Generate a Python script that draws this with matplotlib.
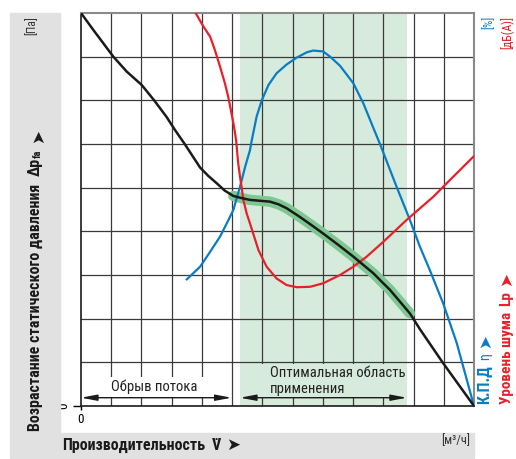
import matplotlib
matplotlib.use("Agg")
import matplotlib.pyplot as plt
from matplotlib.patches import Rectangle
import numpy as np

# values read in grid cells (13 columns x 9 rows, no scale printed)
press_x = [0, 0.41, 1.07, 1.51, 2.01, 2.42, 2.83, 3.11, 3.44, 3.94, 4.21, 4.49,
           4.76, 5.04, 5.32, 5.59, 5.92, 6.25, 6.53, 6.80, 7.02, 7.24, 7.63,
           8.01, 8.51, 9.01, 9.34, 9.67, 10.0, 10.22, 10.55, 10.88, 11.21, 11.97, 13]
press_y = [9, 8.61, 8.0, 7.66, 7.35, 7.0, 6.62, 6.32, 5.99, 5.46, 5.27, 5.10,
           4.93, 4.81, 4.76, 4.72, 4.70, 4.68, 4.62, 4.53, 4.43, 4.33, 4.14,
           3.95, 3.69, 3.42, 3.23, 3.04, 2.81, 2.66, 2.39, 2.12, 1.76, 0.99, 0]

noise_x = [3.80, 4.05, 4.27, 4.43, 4.60, 4.76, 4.87, 4.98, 5.06, 5.13, 5.20,
           5.26, 5.32, 5.37, 5.48, 5.59, 5.87, 6.14, 6.47, 6.80, 7.14, 7.58,
           8.01, 8.57, 9.01, 9.45, 10.0, 10.77, 11.65, 12.21, 12.98]
noise_y = [8.99, 8.69, 8.46, 8.15, 7.77, 7.39, 7.08, 6.70, 6.40, 6.09, 5.56,
           5.25, 4.98, 4.72, 4.41, 4.18, 3.57, 3.19, 2.92, 2.77, 2.72, 2.73,
           2.81, 3.0, 3.19, 3.42, 3.76, 4.26, 4.79, 5.18, 5.71]

eff_x = [3.50, 3.94, 4.27, 4.60, 4.82, 5.04, 5.15, 5.26, 5.43, 5.59, 5.65,
         5.81, 5.98, 6.20, 6.47, 6.80, 7.14, 7.47, 7.68, 8.01, 8.24, 8.57,
         9.01, 9.34, 9.67, 9.89, 10.44, 10.88, 11.21, 11.54, 11.98, 12.43, 13]
eff_y = [2.90, 3.19, 3.53, 3.88, 4.18, 4.49, 4.76, 5.02, 5.48, 5.86, 6.09,
         6.63, 7.0, 7.35, 7.62, 7.82, 7.98, 8.10, 8.14, 8.12, 8.0, 7.79,
         7.39, 6.93, 6.37, 6.0, 5.02, 4.26, 3.65, 3.11, 2.35, 1.44, 0]

stall_range = (0, 4.98)
optimal_range = (5.26, 10.78)
band_range = (5.0, 10.9)

FONT = ["Roboto Condensed", "DejaVu Sans"]
RED = "#e8202a"
BLUE = "#0a7cc4"
GRID = "#3a3a3a"
INK = "#1a1a1a"

fig = plt.figure(figsize=(5.16, 4.59), dpi=100)
W, H = 516, 459
ax = fig.add_axes([81 / W, 1 - 406 / H, (474 - 81) / W, (406 - 13) / H])
ax.set_xlim(0, 13)
ax.set_ylim(0, 9)

# grey L-shaped frame
fig.patches.append(Rectangle((10 / W, 1 - 433 / H), 50 / W, (433 - 13) / H,
                             transform=fig.transFigure, color="#e1e1e1", zorder=0))
fig.patches.append(Rectangle((10 / W, 1 - 458 / H), 464 / W, 25 / H,
                             transform=fig.transFigure, color="#e1e1e1", zorder=0))

ax.axvspan(*optimal_range, color="#d7ebdc", zorder=0, lw=0)

ax.set_xticks([0])
ax.set_yticks([0])
ax.set_xticks(np.arange(1, 13), minor=True)
ax.set_yticks(np.arange(1, 9), minor=True)
ax.grid(which="minor", color=GRID, lw=0.9, zorder=1)
ax.tick_params(which="minor", length=0)
ax.tick_params(axis="y", length=6, width=1, pad=1.5, labelsize=9.5, labelrotation=90)
ax.tick_params(axis="x", length=3, width=1, pad=2, labelsize=9.5)
for lab in ax.get_xticklabels() + ax.get_yticklabels():
    lab.set_family(FONT)
for lab in ax.get_yticklabels():
    lab.set_va("center")
ax.set_axisbelow(True)

for side in ["top", "right"]:
    ax.spines[side].set_color("#8a8a8a")
    ax.spines[side].set_linewidth(1.5)
for side in ["left", "bottom"]:
    ax.spines[side].set_color(INK)
    ax.spines[side].set_linewidth(1.2)

# patches hiding the grid behind the two notes
ax.add_patch(Rectangle((0.05, 0.21), 4.88, 0.46, color="white", lw=0, zorder=1.5))
ax.add_patch(Rectangle((optimal_range[0], 0.21), optimal_range[1] - optimal_range[0],
                       0.76, color="#d7ebdc", lw=0, zorder=1.5))

# curves
px = np.array(press_x)
py = np.array(press_y)
sel = (px >= band_range[0]) & (px <= band_range[1])
ax.plot(px[sel], py[sel], color="#7fc791", lw=7.5, solid_capstyle="round",
        solid_joinstyle="round", zorder=2)
ax.plot(eff_x, eff_y, color=BLUE, lw=1.6, zorder=3, solid_joinstyle="round")
ax.plot(noise_x, noise_y, color=RED, lw=1.6, zorder=3, solid_joinstyle="round")
ax.plot(px, py, color=INK, lw=1.8, zorder=4, solid_joinstyle="round")

arrow_kw = dict(arrowstyle="<|-|>,head_length=0.95,head_width=0.18",
                color=INK, lw=1, mutation_scale=10, shrinkA=0, shrinkB=0)
ax.annotate("", xy=(stall_range[1], 0.19), xytext=(stall_range[0], 0.19),
            arrowprops=arrow_kw, zorder=5)
ax.annotate("", xy=(optimal_range[1], 0.19), xytext=(optimal_range[0], 0.19),
            arrowprops=arrow_kw, zorder=5)

ax.text(2.41, 0.44, "Обрыв потока", ha="center", va="center", fontsize=10.5,
        family=FONT, color="#222222", zorder=5)
ax.text(6.25, 0.58, "Оптимальная область\nприменения", ha="left", va="center",
        fontsize=10.5, family=FONT, color="#222222", linespacing=1.2, zorder=5)

# axis labels, built piece by piece
fig.canvas.draw()
renderer = fig.canvas.get_renderer()


def put(x, y, s, **kw):
    return fig.text(x / W, y / H, s, **kw)


def after(prev, s, gap, vertical, shift=0, **kw):
    bb = prev.get_window_extent(renderer)
    if vertical:
        t = put((bb.x0 + bb.x1) / 2 + shift, bb.y1 + gap, s, rotation=90,
                ha="center", va="bottom", **kw)
    else:
        t = put(bb.x1 + gap, (bb.y0 + bb.y1) / 2 + shift, s, ha="left",
                va="center", **kw)
    fig.canvas.draw()
    return t


bold = dict(family=FONT, weight="bold", fontsize=11.5, color=INK)
arrow_font = dict(family=["DejaVu Sans"], fontsize=12)

t = put(35, H - 431, "Возрастание статического давления", rotation=90,
        ha="center", va="bottom", **bold)
fig.canvas.draw()
t = after(t, "Δp", 8, True, **bold)
t2 = after(t, "fa", 0, True, shift=3, family=FONT, weight="bold", fontsize=7.5,
           color=INK)
after(t2, "➤", 6, True, color=INK, **arrow_font)
put(32, H - 16, "[Па]", rotation=90, ha="center", va="top", family=FONT,
    fontsize=8.5, color="#333333")

t = put(62, H - 445, "Производительность", ha="left", va="center", **bold)
fig.canvas.draw()
t = after(t, "V̇", 7, False, **bold)
after(t, "➤", 5, False, color=INK, **arrow_font)
put(470, H - 441, "[м³/ч]", ha="right", va="center", family=FONT, fontsize=9,
    color="#333333")

t = put(485, H - 404, "К.П.Д", rotation=90, ha="center", va="bottom",
        family=FONT, weight="bold", fontsize=11.5, color=BLUE)
fig.canvas.draw()
t = after(t, "η", 5, True, family=FONT, fontsize=10, color=BLUE)
after(t, "➤", 5, True, color=BLUE, **arrow_font)
put(489, H - 16, "[%]", rotation=90, ha="center", va="top", family=FONT,
    fontsize=8.5, color=BLUE)

t = put(506.5, H - 404, "Уровень шума", rotation=90, ha="center", va="bottom",
        family=FONT, weight="bold", fontsize=11, color=RED)
fig.canvas.draw()
t = after(t, "Lp", 6, True, family=FONT, weight="bold", fontsize=11, color=RED)
after(t, "➤", 5, True, color=RED, **arrow_font)
put(507, H - 16, "[дБ(A)]", rotation=90, ha="center", va="top", family=FONT,
    fontsize=8.5, color=RED)

fig.savefig("out.png", dpi=100)
